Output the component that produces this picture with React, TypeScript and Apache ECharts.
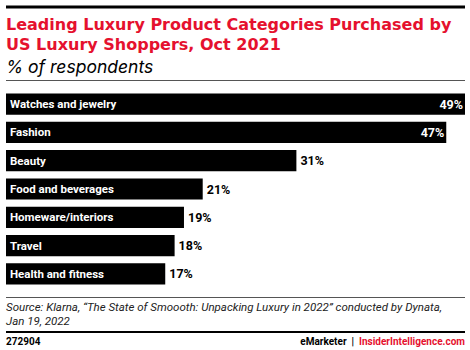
import React, { useEffect, useRef } from "react";
import * as echarts from "echarts";

const categories = [
  "Watches and jewelry",
  "Fashion",
  "Beauty",
  "Food and beverages",
  "Homeware/interiors",
  "Travel",
  "Health and fitness",
];
const values = [49, 47, 31, 21, 19, 18, 17];
const insideThreshold = 40;

const RED = "#e5112e";
const FONT = "Roboto, 'Liberation Sans', sans-serif";
const TITLE_FONT = "'DejaVu Sans', sans-serif";
const SUB_FONT = "Inter, sans-serif";

export default function App() {
  const ref = useRef<HTMLDivElement>(null);
  useEffect(() => {
    if (!ref.current) return;
    const chart = echarts.init(ref.current, null, { renderer: "svg" });
    chart.setOption({
      animation: false,
      textStyle: { fontFamily: FONT },
      grid: { left: 6, right: 5, top: 90, height: 198, containLabel: false },
      xAxis: { type: "value", min: 0, max: 49, show: false },
      yAxis: {
        type: "category",
        data: categories,
        inverse: true,
        show: false,
      },
      series: [
        {
          type: "bar",
          data: values,
          barCategoryGap: "25%",
          itemStyle: { color: "#000" },
          label: {
            show: true,
            position: "insideLeft",
            offset: [-1, 0],
            formatter: (p: any) => p.name,
            color: "#fff",
            fontWeight: "bold",
            fontSize: 11.5,
            fontFamily: FONT,
          },
          silent: true,
        },
        {
          type: "bar",
          data: values.map((v) => ({
            value: v,
            label:
              v >= insideThreshold
                ? { position: "insideRight", color: "#fff", distance: 3, offset: [1, 0] }
                : { position: "right", color: "#000", distance: 4 },
          })),
          barGap: "-100%",
          barCategoryGap: "25%",
          itemStyle: { color: "rgba(0,0,0,0)" },
          label: {
            show: true,
            formatter: "{c}%",
            fontWeight: "bold",
            fontSize: 12.5,
            fontFamily: FONT,
          },
          silent: true,
        },
      ],
      graphic: [
        { type: "rect", shape: { x: 6, y: 5.5, width: 459, height: 3 }, style: { fill: "#000" } },
        {
          type: "text",
          x: 6,
          y: 14,
          style: {
            text: "Leading Luxury Product Categories Purchased by\nUS Luxury Shoppers, Oct 2021",
            fill: RED,
            font: `bold 16px ${TITLE_FONT}`,
            lineHeight: 20,
          },
        },
        {
          type: "text",
          x: 6,
          y: 57,
          style: { text: "% of respondents", fill: "#000", font: `italic 17.5px ${SUB_FONT}` },
        },
        { type: "rect", shape: { x: 6, y: 80, width: 459, height: 1 }, style: { fill: "#555" } },
        { type: "rect", shape: { x: 6, y: 297, width: 459, height: 1 }, style: { fill: "#555" } },
        {
          type: "text",
          x: 6,
          y: 300,
          style: {
            text: "Source: Klarna, \u201cThe State of Smoooth: Unpacking Luxury in 2022\u201d conducted by Dynata,\nJan 19, 2022",
            fill: "#222",
            font: `italic 11.5px ${FONT}`,
            lineHeight: 14,
          },
        },
        { type: "rect", shape: { x: 6, y: 331, width: 459, height: 2 }, style: { fill: "#000" } },
        {
          type: "text",
          x: 6,
          y: 336,
          style: { text: "272904", fill: "#000", font: `bold 10px ${FONT}` },
        },
        {
          type: "text",
          x: 465,
          y: 336,
          style: {
            text: "{a|eMarketer}{b|  |  }{c|InsiderIntelligence.com}",
            align: "right",
            rich: {
              a: { fill: "#000", font: `bold 10px ${FONT}` },
              b: { fill: "#000", font: `bold 10px ${FONT}` },
              c: { fill: RED, font: `bold 10px ${FONT}` },
            },
          },
        },
      ],
    });
    return () => chart.dispose();
  }, []);
  return <div ref={ref} style={{ width: 470, height: 350, position: "absolute", left: 0, top: 0 }} />;
}
